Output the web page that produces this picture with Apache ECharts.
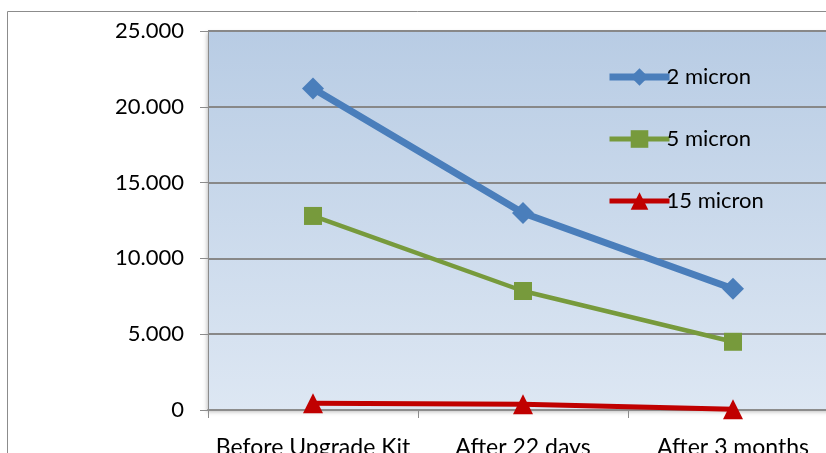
<!DOCTYPE html>
<html>
<head>
<meta charset="utf-8">
<script src="https://cdn.jsdelivr.net/npm/echarts@6/dist/echarts.min.js"></script>
<style>
  html, body { margin: 0; padding: 0; background: #fff; }
  #chart { width: 826px; height: 453px; }
</style>
</head>
<body>
<div id="chart"></div>
<script>
// data
var categories = ['Before Upgrade Kit', 'After 22 days', 'After 3 months']
var micron2 = [21.2, 13.0, 8.0]
var micron5 = [12.8, 7.85, 4.5]
var micron15 = [0.45, 0.38, 0.05]
var yTicks = [0, 5, 10, 15, 20, 25]

var chart = echarts.init(document.getElementById('chart'))
var font = 'Lato, "Liberation Sans", sans-serif'

chart.setOption({
  animation: false,
  graphic: [{
    type: 'rect',
    shape: { x: 7.5, y: 11.5, width: 900, height: 500 },
    style: { fill: 'none', stroke: '#8c8c8c', lineWidth: 1 },
    z: -1
  }],
  grid: {
    left: 208,
    top: 31,
    right: -12,
    bottom: 43,
    outerBoundsMode: 'none',
    containLabel: false,
    show: true,
    borderWidth: 0,
    backgroundColor: {
      type: 'linear', x: 0, y: 0, x2: 0, y2: 1,
      colorStops: [
        { offset: 0, color: '#b8cce4' },
        { offset: 1, color: '#dde7f3' }
      ]
    },
    shadowColor: 'rgba(0,0,0,0.25)',
    shadowBlur: 4,
    shadowOffsetX: -1,
    shadowOffsetY: 2
  },
  legend: {
    orient: 'vertical',
    left: 601,
    top: 61,
    itemWidth: 60,
    itemHeight: 22,
    itemGap: 40,
    textStyle: { fontFamily: font, fontSize: 22, color: '#000', padding: [0, 0, 0, -8] },
    data: [
      { name: '2 micron', lineStyle: { width: 7 } },
      { name: '5 micron', lineStyle: { width: 5 } },
      { name: '15 micron', lineStyle: { width: 5 } }
    ]
  },
  xAxis: {
    type: 'category',
    data: categories,
    axisLine: { lineStyle: { color: '#8c8c8c', width: 2 } },
    axisTick: { show: true, length: 8, lineStyle: { color: '#8c8c8c', width: 1 } },
    axisLabel: { fontFamily: font, fontSize: 23, color: '#000', margin: 26, interval: 0 }
  },
  yAxis: {
    type: 'value',
    min: yTicks[0],
    max: yTicks[yTicks.length - 1],
    interval: 5,
    axisLine: { show: true, lineStyle: { color: '#8c8c8c', width: 1 } },
    axisTick: { show: true, length: 8, lineStyle: { color: '#8c8c8c' } },
    splitLine: { lineStyle: { color: '#888888', width: 2 } },
    axisLabel: {
      fontFamily: font, fontSize: 22, color: '#000', margin: 24,
      formatter: function (v) { return v === 0 ? '0' : v.toFixed(3) }
    }
  },
  series: [
    {
      name: '2 micron',
      type: 'line',
      data: micron2,
      symbol: 'diamond',
      symbolSize: 22,
      color: '#4a7ebb',
      lineStyle: { color: '#4a7ebb', width: 7 },
      itemStyle: { color: '#4a7ebb' },
      z: 3
    },
    {
      name: '5 micron',
      type: 'line',
      data: micron5,
      symbol: 'rect',
      symbolSize: 18,
      color: '#779a3c',
      lineStyle: { color: '#779a3c', width: 4.5 },
      itemStyle: { color: '#779a3c' },
      z: 2
    },
    {
      name: '15 micron',
      type: 'line',
      data: micron15,
      symbol: 'triangle',
      symbolSize: 20,
      color: '#c00000',
      lineStyle: { color: '#c00000', width: 5 },
      itemStyle: { color: '#c00000' },
      z: 1
    }
  ]
})
</script>
</body>
</html>
